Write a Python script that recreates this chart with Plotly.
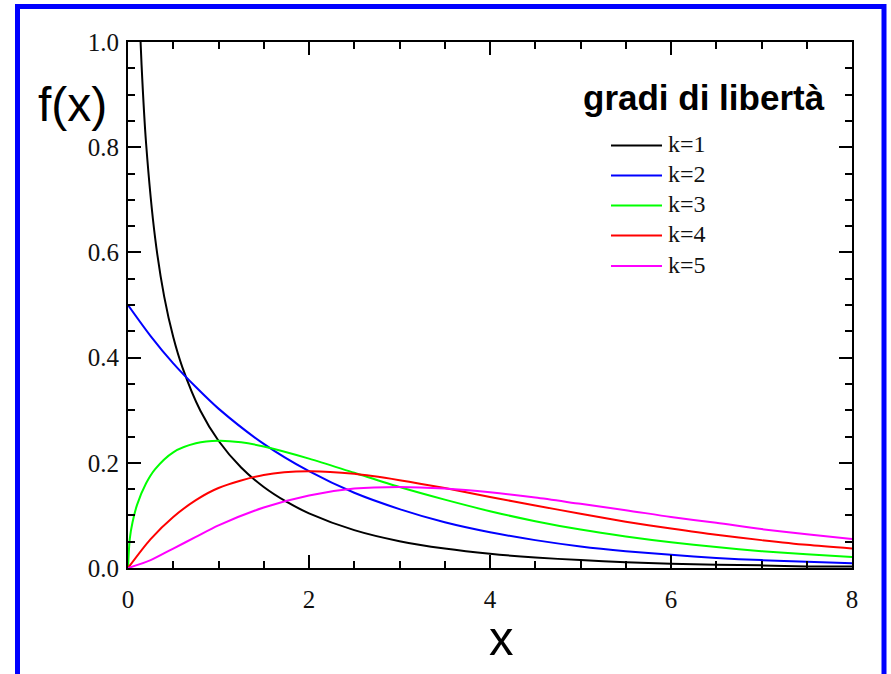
import plotly.graph_objects as go

# ---- data (chi-square densities) ----
series_names = ["k=1", "k=2", "k=3", "k=4", "k=5"]
series_colors = ["#000000", "#0000ff", "#00ff00", "#ff0000", "#ff00ff"]

x_k1 = [0.10, 0.12, 0.15, 0.2, 0.3, 0.4, 0.5, 0.6, 0.8, 1.0, 1.25, 1.5, 1.75, 2.0, 2.5, 3.0, 3.5, 4.0,
        4.5, 5.0, 5.5, 6.0, 6.5, 7.0, 7.5, 8.0]
y_k1 = [1.200, 1.085, 0.956, 0.807, 0.627, 0.516, 0.439, 0.382, 0.299, 0.242, 0.191, 0.154, 0.126, 0.104,
        0.072, 0.051, 0.037, 0.027, 0.020, 0.015, 0.011, 0.008, 0.006, 0.005, 0.003, 0.003]

x_k2 = [0, 0.25, 0.5, 0.75, 1.0, 1.5, 2.0, 2.5, 3.0, 3.5, 4.0, 4.5, 5.0, 5.5, 6.0, 6.5, 7.0, 7.5, 8.0]
y_k2 = [0.500, 0.441, 0.389, 0.344, 0.303, 0.236, 0.184, 0.143, 0.112, 0.087, 0.068, 0.053, 0.041,
        0.032, 0.025, 0.019, 0.015, 0.012, 0.009]

x_k3 = [0, 0.02, 0.05, 0.1, 0.2, 0.3, 0.5, 0.75, 1.0, 1.25, 1.5, 2.0, 2.5, 3.0, 3.5, 4.0, 4.5, 5.0,
        5.5, 6.0, 6.5, 7.0, 7.5, 8.0]
y_k3 = [0.000, 0.056, 0.087, 0.120, 0.161, 0.188, 0.220, 0.237, 0.242, 0.239, 0.231, 0.208, 0.181,
        0.154, 0.130, 0.108, 0.089, 0.073, 0.060, 0.049, 0.040, 0.032, 0.026, 0.021]

x_k4 = [0, 0.25, 0.5, 0.75, 1.0, 1.5, 2.0, 2.5, 3.0, 3.5, 4.0, 4.5, 5.0, 5.5, 6.0, 6.5, 7.0, 7.5, 8.0]
y_k4 = [0.000, 0.055, 0.097, 0.129, 0.152, 0.177, 0.184, 0.179, 0.167, 0.152, 0.135, 0.119, 0.103,
        0.088, 0.075, 0.063, 0.053, 0.044, 0.037]

x_k5 = [0, 0.25, 0.5, 0.75, 1.0, 1.5, 2.0, 2.5, 3.0, 3.5, 4.0, 4.5, 5.0, 5.5, 6.0, 6.5, 7.0, 7.5, 8.0]
y_k5 = [0.000, 0.015, 0.037, 0.059, 0.081, 0.115, 0.138, 0.151, 0.154, 0.151, 0.144, 0.134, 0.122,
        0.110, 0.097, 0.086, 0.074, 0.064, 0.055]

x_tick_vals = [0, 2, 4, 6, 8]
y_tick_vals = [0.0, 0.2, 0.4, 0.6, 0.8, 1.0]
legend_title = "gradi di libertà"
y_title = "f(x)"
x_title = "x"

xs = [x_k1, x_k2, x_k3, x_k4, x_k5]
ys = [y_k1, y_k2, y_k3, y_k4, y_k5]

# ---- figure ----
W, H = 891, 674
L, R, T, B = 128, 39, 42, 106
PW, PH = W - L - R, H - T - B


def px(xp):
    return (xp - L) / PW


def py(yp):
    return (H - B - yp) / PH


fig = go.Figure()
for name, col, xv, yv in zip(series_names, series_colors, xs, ys):
    fig.add_trace(go.Scatter(x=xv, y=yv, mode="lines", name=name,
                             line=dict(color=col, width=2, shape="spline", smoothing=0.8),
                             showlegend=False, hoverinfo="skip"))

tick_font = dict(family="Liberation Serif, Times New Roman, serif", size=25, color="#111111")

fig.update_xaxes(range=[0, 8], tickvals=x_tick_vals, ticktext=[str(v) for v in x_tick_vals],
                 showgrid=False, zeroline=False, showline=True, linecolor="black", linewidth=2,
                 mirror="ticks", ticks="inside", ticklen=13, tickwidth=2, tickcolor="black",
                 minor=dict(dtick=0.5, ticks="inside", ticklen=7, tickwidth=2, tickcolor="black"),
                 tickfont=tick_font, ticklabelstandoff=8)
fig.update_yaxes(range=[0, 1], tickvals=y_tick_vals, ticktext=[f"{v:.1f}" for v in y_tick_vals],
                 showgrid=False, zeroline=False, showline=True, linecolor="black", linewidth=2,
                 mirror="ticks", ticks="inside", ticklen=13, tickwidth=2, tickcolor="black",
                 minor=dict(dtick=0.05, ticks="inside", ticklen=7, tickwidth=2, tickcolor="black"),
                 tickfont=tick_font, ticklabelstandoff=2)

shapes = []
# blue frame
shapes.append(dict(type="rect", xref="paper", yref="paper",
                   x0=px(17.5), x1=px(884), y0=py(700), y1=py(6.5),
                   line=dict(color="#0000ff", width=5), fillcolor="rgba(0,0,0,0)", layer="above"))

annotations = [
    dict(text=y_title, xref="paper", yref="paper", x=px(72.5), y=py(104), showarrow=False,
         xanchor="center", yanchor="middle",
         font=dict(family="Liberation Sans, Arial, sans-serif", size=48, color="black")),
    dict(text=x_title, xref="paper", yref="paper", x=px(502), y=py(638), showarrow=False,
         xanchor="center", yanchor="middle",
         font=dict(family="Liberation Sans, Arial, sans-serif", size=49, color="black")),
    dict(text="<b>" + legend_title + "</b>", xref="paper", yref="paper", x=px(704), y=py(97.5),
         showarrow=False, xanchor="center", yanchor="middle",
         font=dict(family="Liberation Sans, Arial, sans-serif", size=35, color="black")),
]

row_y = [145.5, 175.5, 205.5, 235.5, 266]
for name, col, ry in zip(series_names, series_colors, row_y):
    shapes.append(dict(type="line", xref="paper", yref="paper", x0=px(611), x1=px(662),
                       y0=py(ry), y1=py(ry), line=dict(color=col, width=2)))
    annotations.append(dict(text=name, xref="paper", yref="paper", x=px(666), y=py(ry - 1.5),
                            showarrow=False, xanchor="left", yanchor="middle",
                            font=dict(family="Liberation Serif, Times New Roman, serif", size=24,
                                      color="#111111")))

fig.update_layout(width=W, height=H, margin=dict(l=L, r=R, t=T, b=B, autoexpand=False),
                  paper_bgcolor="white", plot_bgcolor="white",
                  shapes=shapes, annotations=annotations, showlegend=False)

fig.write_html("out.html", config={"displayModeBar": False},
               post_script="document.body.style.margin='0';document.body.style.overflow='hidden';")
